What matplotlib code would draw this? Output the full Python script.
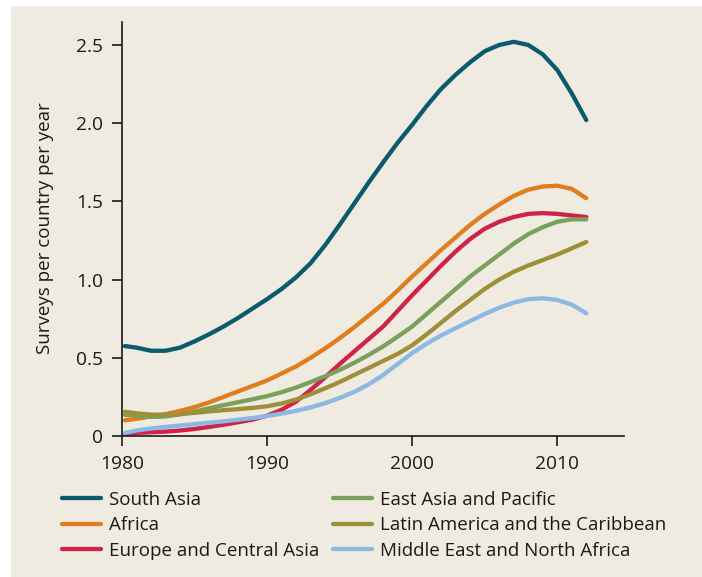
import matplotlib
matplotlib.use("Agg")
import matplotlib.pyplot as plt
from matplotlib.patches import Rectangle

plt.rcParams['font.family'] = ['Open Sans', 'DejaVu Sans']

years = [1980.2] + list(range(1981, 2013))

south_asia = [0.575, 0.565, 0.545, 0.545, 0.565, 0.605, 0.65, 0.70, 0.755, 0.815,
              0.875, 0.94, 1.015, 1.105, 1.22, 1.35, 1.485, 1.62, 1.75, 1.875,
              1.99, 2.11, 2.22, 2.31, 2.39, 2.46, 2.50, 2.52, 2.50, 2.44,
              2.34, 2.19, 2.02]
africa = [0.10, 0.11, 0.125, 0.14, 0.16, 0.185, 0.215, 0.25, 0.285, 0.32,
          0.355, 0.40, 0.445, 0.50, 0.56, 0.625, 0.695, 0.77, 0.845, 0.93,
          1.02, 1.105, 1.19, 1.27, 1.35, 1.42, 1.48, 1.535, 1.575, 1.595,
          1.60, 1.58, 1.52]
europe = [0.015, 0.02, 0.024, 0.028, 0.035, 0.045, 0.058, 0.072, 0.088, 0.105,
          0.13, 0.168, 0.22, 0.295, 0.375, 0.46, 0.54, 0.62, 0.70, 0.80,
          0.90, 0.995, 1.09, 1.18, 1.26, 1.325, 1.37, 1.40, 1.42, 1.425,
          1.42, 1.41, 1.40]
east_asia = [0.135, 0.13, 0.122, 0.125, 0.138, 0.157, 0.177, 0.197, 0.216, 0.235,
             0.255, 0.28, 0.31, 0.345, 0.382, 0.422, 0.468, 0.518, 0.573, 0.635,
             0.70, 0.78, 0.86, 0.94, 1.02, 1.09, 1.16, 1.23, 1.29, 1.335,
             1.37, 1.385, 1.385]
latin_america = [0.155, 0.145, 0.137, 0.135, 0.14, 0.148, 0.157, 0.165, 0.172, 0.18,
                 0.19, 0.208, 0.233, 0.267, 0.305, 0.345, 0.39, 0.435, 0.48, 0.525,
                 0.58, 0.65, 0.725, 0.80, 0.87, 0.94, 1.00, 1.05, 1.09, 1.125,
                 1.16, 1.20, 1.24]
middle_east = [0.02, 0.035, 0.048, 0.058, 0.067, 0.076, 0.085, 0.094, 0.104, 0.115,
               0.128, 0.143, 0.161, 0.183, 0.21, 0.243, 0.282, 0.33, 0.39, 0.46,
               0.53, 0.59, 0.643, 0.69, 0.735, 0.78, 0.82, 0.853, 0.875, 0.88,
               0.87, 0.84, 0.785]

series = [
    ("South Asia", south_asia, "#0B5A6E"),
    ("Africa", africa, "#E07D1E"),
    ("Europe and Central Asia", europe, "#CF2348"),
    ("East Asia and Pacific", east_asia, "#7BA05B"),
    ("Latin America and the Caribbean", latin_america, "#9E9038"),
    ("Middle East and North Africa", middle_east, "#8CB8E4"),
]

xticks = [1980, 1990, 2000, 2010]
yticks = [0, 0.5, 1.0, 1.5, 2.0, 2.5]
ytick_labels = ["0", "0.5", "1.0", "1.5", "2.0", "2.5"]

W, H = 702, 577
fig = plt.figure(figsize=(W / 100, H / 100), dpi=100, facecolor="white")
bg = Rectangle((11 / W, 0), 1 - 11 / W, (H - 6) / H, transform=fig.transFigure,
               facecolor="#EFEBE1", edgecolor="none", zorder=-10)
fig.patches.append(bg)

ax = fig.add_axes([122 / W, 1 - 436 / H, (624 - 122) / W, (436 - 21.5) / H])
ax.set_facecolor("none")

lines = []
for name, vals, col in series:
    ln, = ax.plot(years, vals, color=col, lw=3.1, solid_capstyle="round",
                  solid_joinstyle="round", label=name, clip_on=False)
    lines.append(ln)

ax.set_xlim(1980, 2014.6)
ax.set_ylim(0, 2.65)
ax.set_xticks(xticks)
ax.set_yticks(yticks)
ax.set_yticklabels(ytick_labels)
for s in ["top", "right"]:
    ax.spines[s].set_visible(False)
for s in ["left", "bottom"]:
    ax.spines[s].set_linewidth(1.2)
    ax.spines[s].set_color("#1a1a1a")
ax.tick_params(axis="both", direction="out", length=7.5, width=1.2,
               color="#1a1a1a", labelsize=13.8, labelcolor="#1a1a1a", pad=6)

fig.text(45 / W, 1 - 228 / H, "Surveys per country per year", rotation=90,
         ha="center", va="center", fontsize=13.5, color="#1a1a1a")

leg_kw = dict(frameon=False, fontsize=13.5, handlelength=2.1, handletextpad=0.4,
              labelspacing=0.4, borderpad=0, borderaxespad=0, loc="upper left")
leg1 = fig.legend(handles=lines[:3], bbox_to_anchor=(62 / W, 1 - 491 / H), **leg_kw)
leg2 = fig.legend(handles=lines[3:], bbox_to_anchor=(333 / W, 1 - 491 / H), **leg_kw)
for leg in (leg1, leg2):
    for t in leg.get_texts():
        t.set_color("#1a1a1a")

fig.savefig("out.png", dpi=100, facecolor="white")
